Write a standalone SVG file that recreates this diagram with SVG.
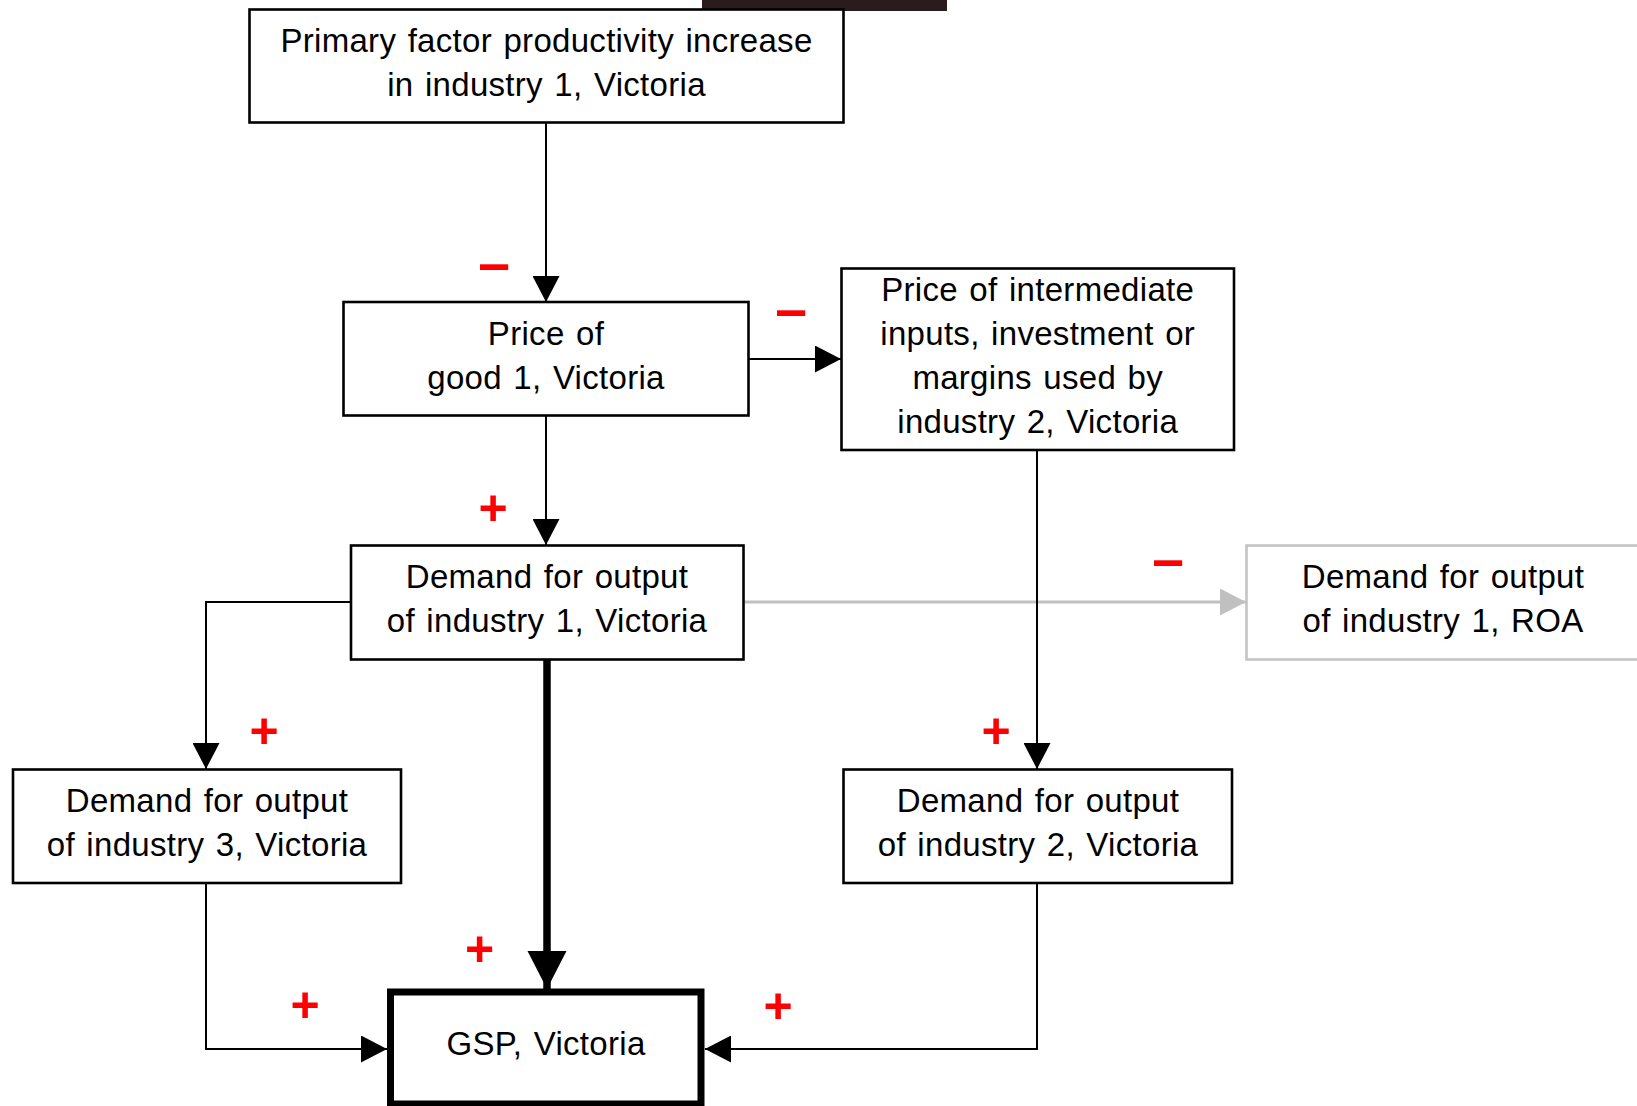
<svg xmlns="http://www.w3.org/2000/svg" width="1637" height="1106" viewBox="0 0 1637 1106">
<style>
.box{fill:#fff;stroke:#000;stroke-width:2.6}
.gbox{fill:#fff;stroke:#c4c4c4;stroke-width:2.6}
.gsp{fill:#fff;stroke:#000;stroke-width:7}
.t{font-family:"Liberation Sans",Arial,sans-serif;font-size:33px;letter-spacing:0.3px;word-spacing:2px;text-anchor:middle;fill:#000}
.c{fill:none;stroke:#000;stroke-width:2}
.cg{fill:none;stroke:#c0c0c0;stroke-width:3}
.ck{fill:none;stroke:#000;stroke-width:7.5}
.sg{font-family:"Liberation Sans",Arial,sans-serif;font-weight:bold;fill:#ff0000;text-anchor:middle}
.pl{font-size:50px}
.mi{font-size:57px}
</style>
<defs>
<marker id="a" markerUnits="userSpaceOnUse" markerWidth="27" markerHeight="27" refX="26" refY="13.5" orient="auto"><path d="M0,0 L26,13.5 L0,27 z" fill="#000"/></marker>
<marker id="ag" markerUnits="userSpaceOnUse" markerWidth="27" markerHeight="27" refX="26" refY="13.5" orient="auto"><path d="M0,0 L26,13.5 L0,27 z" fill="#c0c0c0"/></marker>
<marker id="ak" markerUnits="userSpaceOnUse" markerWidth="40" markerHeight="40" refX="38" refY="19.5" orient="auto"><path d="M0,0 L38,19.5 L0,39 z" fill="#000"/></marker>
</defs>
<rect x="702" y="0" width="245" height="11" fill="#2a1c1c"/>
<g id="connectors">
<line class="c" x1="546" y1="122" x2="546" y2="302" marker-end="url(#a)"/>
<line class="c" x1="745" y1="359" x2="841" y2="359" marker-end="url(#a)"/>
<line class="c" x1="546" y1="415" x2="546" y2="545" marker-end="url(#a)"/>
<path class="c" d="M351,602 H206 V769" marker-end="url(#a)"/>
<line class="ck" x1="547" y1="658" x2="547" y2="989" marker-end="url(#ak)"/>
<line class="cg" x1="743" y1="602" x2="1246" y2="602" marker-end="url(#ag)"/>
<line class="c" x1="1037" y1="449" x2="1037" y2="769" marker-end="url(#a)"/>
<path class="c" d="M206,883 V1049 H387" marker-end="url(#a)"/>
<path class="c" d="M1037,883 V1049 H705" marker-end="url(#a)"/>
</g>
<g id="n1"><rect class="box" x="249.5" y="9.5" width="594" height="113"/>
<text class="t" x="546.5" y="52">Primary factor productivity increase</text>
<text class="t" x="546.5" y="96">in industry 1, Victoria</text></g>
<g id="n2"><rect class="box" x="343.5" y="302" width="405" height="113.5"/>
<text class="t" x="546" y="345">Price of</text>
<text class="t" x="546" y="389">good 1, Victoria</text></g>
<g id="n3"><rect class="box" x="841.5" y="268.5" width="392.5" height="181.5"/>
<text class="t" x="1037.7" y="300.5">Price of intermediate</text>
<text class="t" x="1037.7" y="344.5">inputs, investment or</text>
<text class="t" x="1037.7" y="388.5">margins used by</text>
<text class="t" x="1037.7" y="432.5">industry 2, Victoria</text></g>
<g id="n4"><rect class="box" x="351" y="545.5" width="392.5" height="114"/>
<text class="t" x="547" y="588">Demand for output</text>
<text class="t" x="547" y="632">of industry 1, Victoria</text></g>
<g id="n5"><rect class="gbox" x="1246.5" y="545.5" width="400" height="114"/>
<text class="t" x="1443" y="588">Demand for output</text>
<text class="t" x="1443" y="632">of industry 1, ROA</text></g>
<g id="n6"><rect class="box" x="13" y="769.5" width="388" height="113.5"/>
<text class="t" x="207" y="811.5">Demand for output</text>
<text class="t" x="207" y="856">of industry 3, Victoria</text></g>
<g id="n7"><rect class="box" x="843.5" y="769.5" width="388.5" height="113.5"/>
<text class="t" x="1038" y="811.5">Demand for output</text>
<text class="t" x="1038" y="856">of industry 2, Victoria</text></g>
<g id="n8"><rect class="gsp" x="390.5" y="992" width="310.5" height="112"/>
<text class="t" x="546" y="1055">GSP, Victoria</text></g>
<g id="signs">
<text class="sg mi" x="494" y="283">–</text>
<text class="sg mi" x="791" y="329">–</text>
<text class="sg mi" x="1168" y="579">–</text>
<text class="sg pl" x="493" y="524.5">+</text>
<text class="sg pl" x="264" y="747.5">+</text>
<text class="sg pl" x="996" y="747.5">+</text>
<text class="sg pl" x="479.5" y="966">+</text>
<text class="sg pl" x="305" y="1021.5">+</text>
<text class="sg pl" x="778" y="1022.5">+</text>
</g>
</svg>
